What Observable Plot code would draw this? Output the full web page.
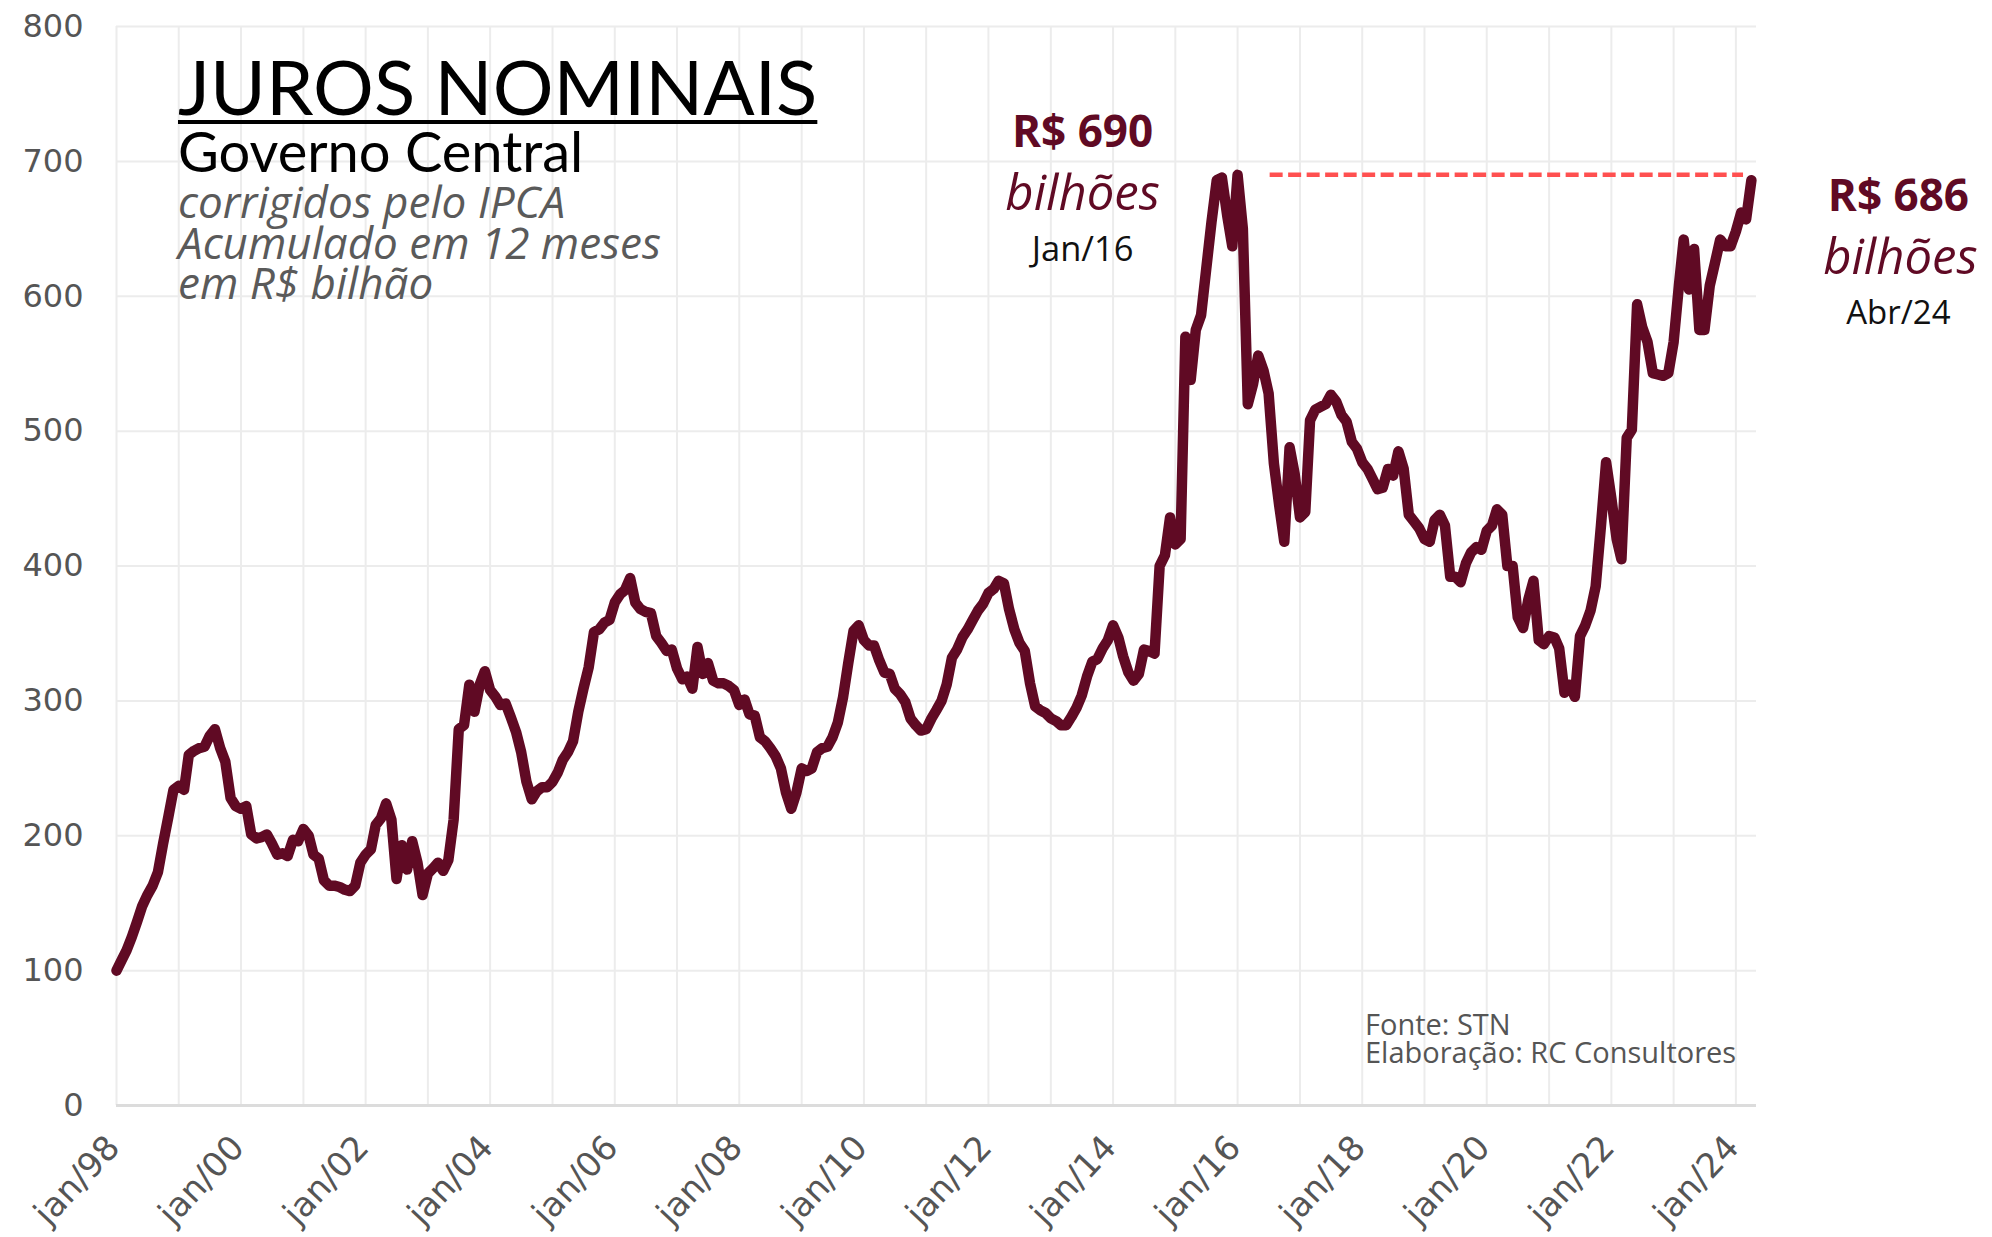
<!DOCTYPE html>
<html>
<head>
<meta charset="utf-8">
<script src="https://cdn.jsdelivr.net/npm/d3@7"></script>
<script src="https://cdn.jsdelivr.net/npm/@observablehq/plot@0.6"></script>
<style>
  html, body { margin: 0; padding: 0; background: #ffffff; }
  #wrap { position: relative; width: 1992px; height: 1237px; overflow: hidden; background: #fff; }
  #wrap svg.overlay { position: absolute; left: 0; top: 0; pointer-events: none; }
</style>
</head>
<body>
<div id="wrap"></div>
<script>
// ---- Data: monthly values, R$ bilhões (Jan/1998 .. Abr/2024) ----
const years = [1998,1999,2000,2001,2002,2003,2004,2005,2006,2007,2008,2009,2010,2011,2012,2013,2014,2015,2016,2017,2018,2019,2020,2021,2022,2023,2024];
const v1998 = [100,108,115,125,136,148,156,163,173,194,214,234];
const v1999 = [237,234,260,263,265,266,274,279,265,255,228,222];
const v2000 = [220,222,201,198,199,201,194,186,187,185,197,196];
const v2001 = [205,200,186,183,167,163,163,162,160,159,163,180];
const v2002 = [186,190,208,213,224,212,168,193,175,196,180,156];
const v2003 = [172,176,180,174,182,212,279,282,312,292,312,322];
const v2004 = [308,303,297,298,288,277,262,240,227,233,236,236];
const v2005 = [240,247,256,262,270,292,309,325,351,353,358,360];
const v2006 = [373,379,382,391,373,368,366,365,348,343,337,338];
const v2007 = [324,316,318,309,340,320,328,315,313,313,311,308];
const v2008 = [297,301,290,289,273,270,265,259,250,232,220,232];
const v2009 = [250,248,250,262,265,266,273,284,303,328,352,356];
const v2010 = [345,341,341,330,321,320,309,305,299,287,282,278];
const v2011 = [279,287,293,300,312,332,338,347,353,360,367,372];
const v2012 = [380,383,389,387,368,353,343,337,313,296,293,291];
const v2013 = [287,285,282,282,288,295,304,318,329,331,339,345];
const v2014 = [356,347,333,321,315,320,338,337,335,400,408,436];
const v2015 = [416,420,570,538,575,586,620,655,686,688,660,637];
const v2016 = [690,650,520,535,556,545,528,476,445,418,488,468];
const v2017 = [436,440,508,516,518,520,527,522,512,507,492,487];
const v2018 = [477,472,465,457,458,472,467,485,472,438,433,428];
const v2019 = [420,418,434,438,430,392,392,388,402,410,414,412];
const v2020 = [426,430,442,438,400,400,362,354,375,389,345,342];
const v2021 = [348,347,339,306,312,303,348,356,367,385,430,477];
const v2022 = [450,420,405,495,501,594,577,566,543,542,541,543];
const v2023 = [566,608,642,605,635,575,575,608,625,642,637,637];
const v2024 = [648,662,657,686];
const series = [v1998,v1999,v2000,v2001,v2002,v2003,v2004,v2005,v2006,v2007,v2008,v2009,v2010,v2011,v2012,v2013,v2014,v2015,v2016,v2017,v2018,v2019,v2020,v2021,v2022,v2023,v2024];

// Axis ticks
const yTicks = [0,100,200,300,400,500,600,700,800];
const xTickYears = [1998,2000,2002,2004,2006,2008,2010,2012,2014,2016,2018,2020,2022,2024];
const xTickLabels = ["jan/98","jan/00","jan/02","jan/04","jan/06","jan/08","jan/10","jan/12","jan/14","jan/16","jan/18","jan/20","jan/22","jan/24"];

// Annotations
const peakAnnot = [{date: new Date(Date.UTC(2016,0,1)), value: 690, label: "R$ 690", unit: "bilhões", when: "Jan/16"}];
const lastAnnot = [{date: new Date(Date.UTC(2024,3,1)), value: 686, label: "R$ 686", unit: "bilhões", when: "Abr/24"}];
const refLine = [{value: 690, start: new Date(Date.UTC(2016,6,10)), end: new Date(Date.UTC(2024,1,15))}];

// Build table
const data = [];
series.forEach((arr, i) => arr.forEach((v, j) => data.push({date: new Date(Date.UTC(years[i], j, 1)), value: v})));
const gridDates = years.map(y => new Date(Date.UTC(y, 0, 1)));
const xTickDates = xTickYears.map(y => new Date(Date.UTC(y, 0, 1)));
const labelFor = d => { const i = xTickDates.findIndex(t => +t === +d); return i >= 0 ? xTickLabels[i] : ""; };

const maroon = "#600a24";
const axisFont = "DejaVu Sans";

const chart = Plot.plot({
  width: 1992,
  height: 1237,
  marginLeft: 116,
  marginRight: 236,
  marginTop: 26,
  marginBottom: 132,
  style: {background: "#ffffff", overflow: "visible", fontFamily: axisFont},
  x: {type: "utc", domain: [new Date(Date.UTC(1998,0,1)), new Date(Date.UTC(2024,4,1))], label: null},
  y: {domain: [0, 800], label: null},
  marks: [
    Plot.gridX(gridDates, {stroke: "#ececec", strokeOpacity: 1, strokeWidth: 2}),
    Plot.gridY(yTicks, {stroke: "#ececec", strokeOpacity: 1, strokeWidth: 2}),
    Plot.ruleY([0], {stroke: "#dcdcdc", strokeWidth: 3}),
    Plot.axisY(yTicks, {tickSize: 0, tickPadding: 33, fontSize: 32, fill: "#555555", label: null, tickFormat: d => String(d)}),
    Plot.axisX(xTickDates, {tickSize: 0, tickPadding: 36, dx: -3, tickRotate: -47, textAnchor: "end", lineAnchor: "middle", fontSize: 34, fill: "#555555", label: null, tickFormat: labelFor}),
    Plot.ruleY(refLine, {y: "value", x1: "start", x2: "end", stroke: "#ff5050", strokeWidth: 4.5, strokeDasharray: "13,5.5"}),
    Plot.line(data, {x: "date", y: "value", stroke: maroon, strokeWidth: 10.5, strokeLinejoin: "round", strokeLinecap: "round"}),
    // Peak annotation (Jan/16)
    Plot.text(peakAnnot, {x: "date", y: "value", text: "label", dx: -155, dy: -28, lineAnchor: "bottom", textAnchor: "middle", fontFamily: "Open Sans", fontWeight: 700, fontSize: 44, fill: maroon}),
    Plot.text(peakAnnot, {x: "date", y: "value", text: "unit", dx: -155, dy: 35, lineAnchor: "bottom", textAnchor: "middle", fontFamily: "Open Sans", fontStyle: "italic", fontSize: 49, fill: maroon}),
    Plot.text(peakAnnot, {x: "date", y: "value", text: "when", dx: -155, dy: 86, lineAnchor: "bottom", textAnchor: "middle", fontFamily: "Open Sans", fontSize: 34.5, fill: "#111111"}),
    // Last value annotation (Abr/24)
    Plot.text(lastAnnot, {x: "date", y: "value", text: "label", dx: 147, dy: 31, lineAnchor: "bottom", textAnchor: "middle", fontFamily: "Open Sans", fontWeight: 700, fontSize: 44, fill: maroon}),
    Plot.text(lastAnnot, {x: "date", y: "value", text: "unit", dx: 149, dy: 94, lineAnchor: "bottom", textAnchor: "middle", fontFamily: "Open Sans", fontStyle: "italic", fontSize: 49, fill: maroon}),
    Plot.text(lastAnnot, {x: "date", y: "value", text: "when", dx: 147, dy: 144, lineAnchor: "bottom", textAnchor: "middle", fontFamily: "Open Sans", fontSize: 33, fill: "#111111"})
  ]
});

const wrap = document.getElementById("wrap");
wrap.appendChild(chart);

// Title block and source (real text, overlaid on the chart area)
const ns = "http://www.w3.org/2000/svg";
const over = document.createElementNS(ns, "svg");
over.setAttribute("class", "overlay");
over.setAttribute("width", "1992");
over.setAttribute("height", "1237");
function addText(str, x, y, attrs) {
  const t = document.createElementNS(ns, "text");
  t.setAttribute("x", x); t.setAttribute("y", y);
  for (const k in attrs) t.setAttribute(k, attrs[k]);
  t.textContent = str;
  over.appendChild(t);
  return t;
}
const title = addText("JUROS NOMINAIS", 178, 115, {"font-family": "Lato", "font-size": 76, "fill": "#000"});
addText("Governo Central", 178, 172, {"font-family": "Lato", "font-size": 56, "fill": "#000"});
const sub = {"font-family": "Open Sans", "font-style": "italic", "font-size": 44, "fill": "#5a5a5a"};
addText("corrigidos pelo IPCA", 178, 218, sub);
addText("Acumulado em 12 meses", 178, 259, sub);
addText("em R$ bilhão", 178, 299, sub);
const cap = {"font-family": "Open Sans", "font-size": 29, "fill": "#555555"};
addText("Fonte: STN", 1365, 1035, cap);
addText("Elaboração: RC Consultores", 1365, 1063, cap);
const ul = document.createElementNS(ns, "line");
ul.setAttribute("x1", 178); ul.setAttribute("y1", 122); ul.setAttribute("y2", 122);
ul.setAttribute("stroke", "#000"); ul.setAttribute("stroke-width", 4);
over.appendChild(ul);
wrap.appendChild(over);
ul.setAttribute("x2", 178 + title.getComputedTextLength());
</script>
</body>
</html>
